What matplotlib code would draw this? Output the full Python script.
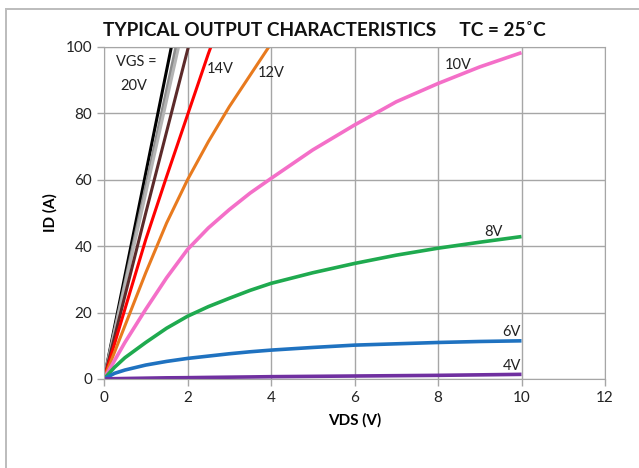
import matplotlib.pyplot as plt
from matplotlib.patches import Rectangle

# ------------------------------------------------------------
# Data (VDS in V, ID in A)
# ------------------------------------------------------------
vds_steep = [0, 0.5, 1.0, 1.5, 2.0, 2.5, 3.0, 3.5, 4.0, 4.5]
vds_curve = [0, 0.25, 0.5, 1, 1.5, 2, 2.5, 3, 3.5, 4, 5, 6, 7, 8, 9, 10]

id_20v = [0, 31, 62, 93, 124, 150, 170, 185, 195, 200]
id_18v = [0, 29, 58, 87, 116, 140, 160, 175, 185, 190]
id_17v = [0, 28, 56, 84, 112, 135, 155, 170, 180, 185]
id_16v = [0, 25, 50, 74.5, 99, 123, 145, 160, 170, 175]
id_14v = [0, 21, 42, 61, 79.5, 98, 115, 130, 140, 145]
id_12v = [0, 16, 32, 47, 60, 71.5, 82, 91.5, 101, 108]

id_10v = [0, 5.5, 11, 21, 30.5, 39, 45.5, 51, 56, 60.4, 69, 76.5, 83.5, 89, 94, 98.3]
id_8v = [0, 3.5, 6.4, 11, 15.3, 18.9, 21.8, 24.3, 26.7, 28.8, 32, 34.8, 37.3, 39.4, 41.2, 42.9]
id_6v = [0, 1.7, 2.7, 4.2, 5.3, 6.2, 6.9, 7.6, 8.2, 8.7, 9.5, 10.2, 10.6, 11, 11.3, 11.5]
id_4v = [0, 0.1, 0.15, 0.25, 0.35, 0.4, 0.48, 0.55, 0.62, 0.7, 0.8, 0.9, 1.0, 1.1, 1.25, 1.4]

steep_series = [
    (id_20v, "black"),
    (id_18v, "#8c8c8c"),
    (id_17v, "#b4b4b4"),
    (id_16v, "#5c2a2a"),
    (id_14v, "#ff0000"),
    (id_12v, "#e87a1e"),
]
curve_series = [
    (id_10v, "#f46fc8"),
    (id_8v, "#1faa4f"),
    (id_6v, "#1f72c0"),
    (id_4v, "#7030a0"),
]

# (text, x, y)
curve_labels = [
    ("VGS =", 0.29, 95.5),
    ("20V", 0.38, 88.3),
    ("14V", 2.47, 93.5),
    ("12V", 3.69, 92.3),
    ("10V", 8.15, 94.5),
    ("8V", 9.1, 44.3),
    ("6V", 9.55, 14.2),
    ("4V", 9.55, 3.9),
]

# ------------------------------------------------------------
# Figure setup
# ------------------------------------------------------------
plt.rcParams["font.family"] = ["Lato", "DejaVu Sans"]

W, H = 639, 468
fig = plt.figure(figsize=(W / 100, H / 100), dpi=100)
fig.patch.set_facecolor("white")

# outer chart frame (only top/left edges visible in the reference)
frame_col = "#bdbdbd"
fig.add_artist(Rectangle((5 / W, 0), 2 / W, 1 - 8 / H,
                         transform=fig.transFigure, facecolor=frame_col,
                         edgecolor="none", zorder=5))
fig.add_artist(Rectangle((5 / W, 1 - 10 / H), 1 - 5 / W, 2 / H,
                         transform=fig.transFigure, facecolor=frame_col,
                         edgecolor="none", zorder=5))

ax = fig.add_axes([104 / W, 89 / H, 501 / W, 332 / H])

for ids, col in steep_series:
    ax.plot(vds_steep, ids, color=col, linewidth=2.2, solid_capstyle="butt")
for ids, col in curve_series:
    ax.plot(vds_curve, ids, color=col, linewidth=2.6, solid_capstyle="butt")

for txt, x, y in curve_labels:
    ax.text(x, y, txt, fontsize=10.5, va="center", ha="left", color="#222222")

ax.set_xlim(0, 12)
ax.set_ylim(0, 100)
ax.set_xticks(range(0, 13, 2))
ax.set_yticks(range(0, 101, 20))
ax.grid(color="#a6a6a6", linewidth=1.0)
ax.set_axisbelow(True)
for s in ax.spines.values():
    s.set_color("#a6a6a6")
ax.tick_params(colors="#a6a6a6", labelcolor="#222222", labelsize=11,
               length=5, width=1.0)

ax.set_xlabel("VDS (V)", fontsize=11, fontweight="bold", labelpad=6)
ax.set_ylabel("ID (A)", fontsize=11, fontweight="bold", labelpad=6)

fig.text(324 / W, 1 - 30 / H,
         "TYPICAL OUTPUT CHARACTERISTICS     TC = 25\u02daC",
         ha="center", va="center", fontsize=13.7, fontweight="bold",
         color="#111111")

plt.savefig("out.png", dpi=100)
